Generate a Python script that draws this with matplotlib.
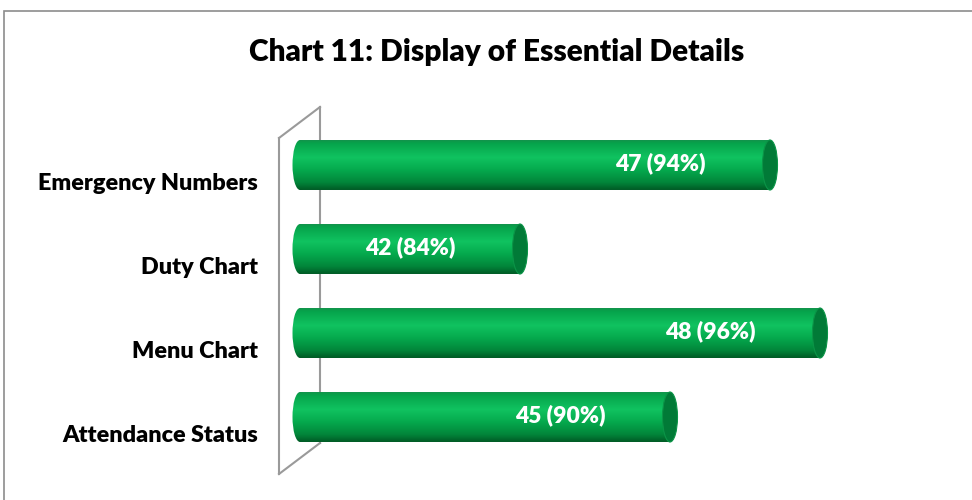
import numpy as np
import matplotlib.pyplot as plt
from matplotlib.patches import Ellipse, Rectangle, PathPatch
from matplotlib.path import Path
from matplotlib.colors import LinearSegmentedColormap
from matplotlib.lines import Line2D
import matplotlib.transforms as mtransforms

plt.rcParams['font.family'] = ['Lato', 'DejaVu Sans']
plt.rcParams['font.weight'] = 'bold'

# data
categories = ['Emergency Numbers', 'Duty Chart', 'Menu Chart', 'Attendance Status']
counts = [47, 42, 48, 45]
percents = [94, 84, 96, 90]

axis_min = 37.6   # bars start here (axis minimum)
bar_h = 0.595     # bar thickness in category units
cap_w = 0.3       # width of the cylinder end ellipse in value units

W, H = 972, 500
fig = plt.figure(figsize=(W / 100, H / 100), dpi=100)
fig.patch.set_facecolor('white')

# chart area border (right/bottom fall outside the picture)
fig.add_artist(Rectangle((4 / W, -0.05), 1.1, 1 - 11 / H + 0.05, transform=fig.transFigure,
                         fill=False, edgecolor='#8c8c8c', linewidth=1.2))

# axes placed so that value 37 -> 270 px and 50 -> 920 px
ax = fig.add_axes([270 / W, 13 / H, 650 / W, 392 / H])
ax.set_axis_off()

# vertical gradient of the cylinders
stops = [(0.0, '#12924a'), (0.06, '#06a34b'), (0.35, '#10c360'), (0.6, '#05a94d'),
         (0.85, '#02853a'), (1.0, '#005a25')]
cmap = LinearSegmentedColormap.from_list('cyl', stops)
grad = np.linspace(0, 1, 256).reshape(-1, 1)

for i, v in enumerate(counts):
    y0, y1 = i - bar_h / 2, i + bar_h / 2
    body = Path.unit_rectangle().transformed(
        mtransforms.Affine2D().scale(v - axis_min, bar_h).translate(axis_min, y0))
    left_cap = Ellipse((axis_min, i), cap_w, bar_h)
    lc_path = left_cap.get_patch_transform().transform_path(left_cap.get_path())
    clip = PathPatch(Path.make_compound_path(body, lc_path), transform=ax.transData,
                     facecolor='none', edgecolor='none')
    ax.add_patch(clip)
    im = ax.imshow(grad, cmap=cmap, aspect='auto', origin='upper', interpolation='bilinear',
                   extent=(axis_min - cap_w, v, y1, y0), zorder=3)
    im.set_clip_path(clip)
    # end cap
    ax.add_patch(Ellipse((v, i), cap_w, bar_h, facecolor='#017a37', edgecolor='#0b9447',
                         linewidth=0.8, zorder=4))
    ax.text(v - 2.2, i - 0.02, f'{v} ({percents[i]}%)', color='white', fontsize=16.5,
            fontweight='heavy', ha='center', va='center', zorder=5)

ax.set_xlim(37, 50)
ax.set_ylim(3 + 0.8333, -0.8333)

# category labels, shifted down like the 3D projection
lab_tr = mtransforms.blended_transform_factory(fig.transFigure, ax.transData)
for i, c in enumerate(categories):
    ax.text(258 / W, i + 0.215, c, transform=lab_tr, ha='right', va='center',
            fontsize=16.8, fontweight='heavy', color='black')

# side wall of the 3D plot
def px(x, y):
    return x / W, 1 - y / H

wall = [((279, 138), (320, 107)), ((320, 107), (320, 443)), ((279, 138), (279, 474)),
        ((279, 474), (320, 443))]
for (xa, ya), (xb, yb) in wall:
    (fx0, fy0), (fx1, fy1) = px(xa, ya), px(xb, yb)
    fig.add_artist(Line2D([fx0, fx1], [fy0, fy1], transform=fig.transFigure,
                          color='#9a9a9a', linewidth=1.5, zorder=0))

fig.text(497 / W, 1 - 52 / H, 'Chart 11: Display of Essential Details', ha='center',
         va='center', fontsize=21.5, fontweight='heavy', color='black')

fig.savefig('out.png', dpi=100, facecolor='white')
